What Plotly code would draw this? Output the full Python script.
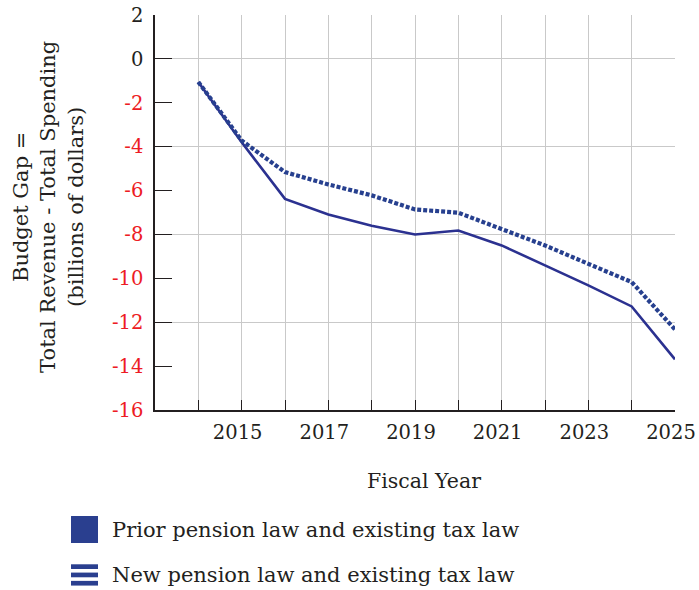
import plotly.graph_objects as go

years = [2014, 2015, 2016, 2017, 2018, 2019, 2020, 2021, 2022, 2023, 2024, 2025]
prior_law = [-1.05, -3.8, -6.38, -7.09, -7.6, -8.0, -7.82, -8.5, -9.41, -10.32, -11.28, -13.69]
new_law = [-1.05, -3.72, -5.16, -5.72, -6.22, -6.86, -7.01, -7.74, -8.5, -9.34, -10.17, -12.33]

series_names = ["Prior pension law and existing tax law", "New pension law and existing tax law"]
x_tick_vals = list(range(2013, 2026))
x_tick_text = [str(y) if (y % 2 == 1 and y > 2013) else "" for y in x_tick_vals]
y_tick_vals = list(range(2, -17, -2))

FONT = "DejaVu Serif"
BLACK = "#231f20"
RED = "#ed1c24"
NAVY = "#2b3190"
NAVY2 = "#27408f"

y_tick_text = [
    (f'<span style="color:{BLACK}">{v}</span>' if v >= 0 else f'<span style="color:{RED}">{v}</span>')
    for v in y_tick_vals
]

fig = go.Figure()
fig.add_trace(go.Scatter(x=years, y=prior_law, mode="lines", name=series_names[0],
                         line=dict(color=NAVY, width=2.6), showlegend=False))
fig.add_trace(go.Scatter(x=years, y=new_law, mode="lines", name=series_names[1],
                         line=dict(color=NAVY2, width=4.2, dash="4px,2px"), showlegend=False))
# invisible trace to draw the horizontal grid every 4 units
fig.add_trace(go.Scatter(x=[2013], y=[0], yaxis="y2", mode="markers",
                         marker=dict(opacity=0), showlegend=False, hoverinfo="skip"))

fig.update_layout(
    width=699, height=590,
    margin=dict(l=155, r=24, t=15, b=180, autoexpand=False),
    paper_bgcolor="white", plot_bgcolor="white",
    font=dict(family=FONT, size=19, color=BLACK),
    xaxis=dict(range=[2013, 2025], tickmode="array", tickvals=x_tick_vals, ticktext=x_tick_text,
               ticks="inside", ticklen=10, tickcolor=BLACK, tickwidth=1.2,
               showline=True, linecolor=BLACK, linewidth=1.5, automargin=False,
               showgrid=True, gridcolor="#c9c9c9", gridwidth=1.2, zeroline=False,
               tickfont=dict(family=FONT, size=19.5, color=BLACK), ticklabelstandoff=4,
               ticklabelshift=-4),
    yaxis=dict(range=[-16, 2], tickmode="array", tickvals=y_tick_vals, ticktext=y_tick_text,
               ticks="inside", ticklen=17, tickcolor=BLACK, tickwidth=1.2,
               showline=True, linecolor=BLACK, linewidth=1.5, automargin=False,
               showgrid=False, zeroline=False,
               tickfont=dict(family=FONT, size=19.5), ticklabelstandoff=6),
    yaxis2=dict(range=[-16, 2], overlaying="y", tickmode="array", tickvals=[0, -4, -8, -12],
                showticklabels=False, ticks="", showgrid=True, gridcolor="#c9c9c9", gridwidth=1.2,
                zeroline=False, showline=False, automargin=False),
)

# axis titles
fig.add_annotation(text="Fiscal Year", xref="paper", yref="paper", x=0.517, y=-0.18,
                   yanchor="middle", xanchor="center", showarrow=False,
                   font=dict(family=FONT, size=20.5, color=BLACK))
fig.add_annotation(text="Budget Gap =<br>Total Revenue - Total Spending<br>(billions of dollars)",
                   xref="paper", yref="paper", x=-0.204, y=0.514, xanchor="center", yanchor="middle",
                   textangle=-90, showarrow=False,
                   font=dict(family=FONT, size=21, color=BLACK))

# legend drawn manually
legend_color = "#2a3f8f"
fig.add_shape(type="rect", xref="paper", yref="paper", x0=-0.1615, x1=-0.1096, y0=-0.3367, y1=-0.2684,
              fillcolor=legend_color, line=dict(width=0))
for k in range(3):
    top = -0.3906 - k * 0.021
    fig.add_shape(type="rect", xref="paper", yref="paper", x0=-0.1615, x1=-0.1096,
                  y0=top - 0.0119, y1=top, fillcolor=legend_color, line=dict(width=0))
fig.add_annotation(text=series_names[0], xref="paper", yref="paper", x=-0.0865, y=-0.3038,
                   xanchor="left", yanchor="middle", showarrow=False,
                   font=dict(family=FONT, size=21, color=BLACK))
fig.add_annotation(text=series_names[1], xref="paper", yref="paper", x=-0.0865, y=-0.4177,
                   xanchor="left", yanchor="middle", showarrow=False,
                   font=dict(family=FONT, size=21, color=BLACK))

fig.write_html("out.html", config={"displayModeBar": False},
               post_script="document.body.style.margin='0px';")
